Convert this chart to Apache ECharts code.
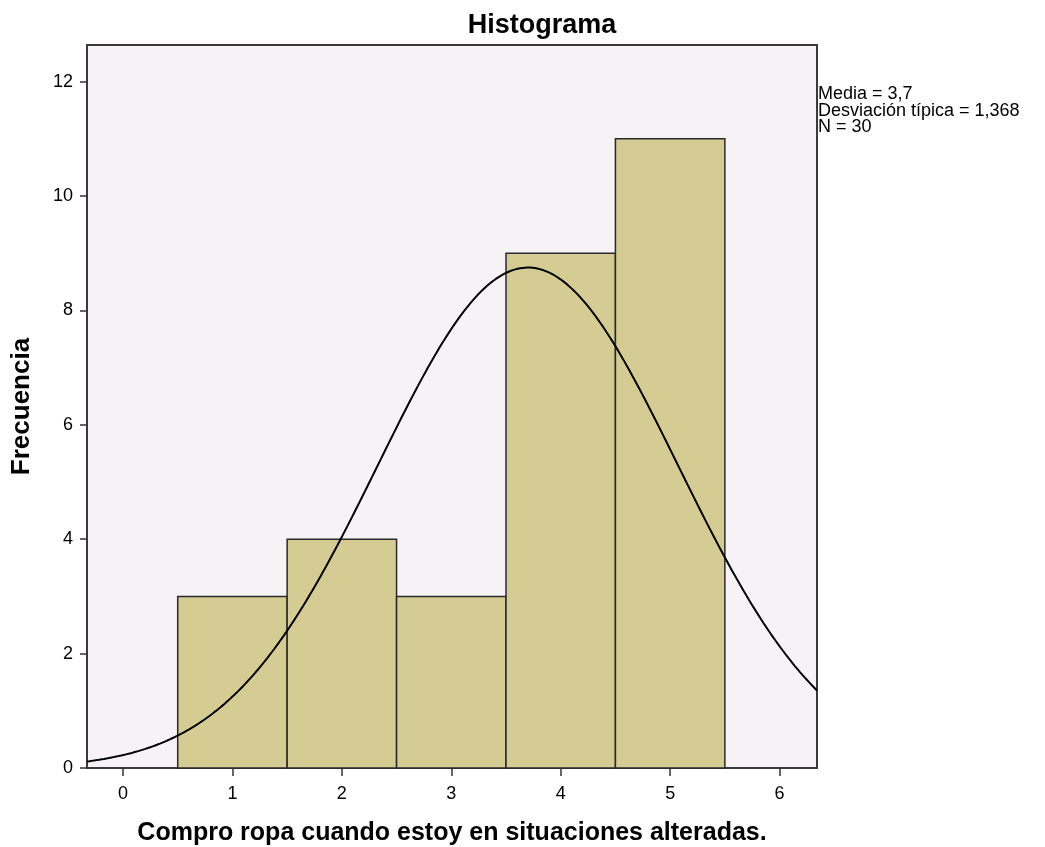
<!DOCTYPE html>
<html>
<head>
<meta charset="utf-8">
<script src="https://cdn.jsdelivr.net/npm/echarts@6/dist/echarts.min.js"></script>
<style>html,body{margin:0;padding:0;background:#fff}#c{width:1045px;height:847px}</style>
</head>
<body>
<div id="c"></div>
<script>
// Data
var binCenters = [1, 2, 3, 4, 5];
var frequencies = [3, 4, 3, 9, 11];
var meanValue = 3.7;
var sdValue = 1.368;
var nValue = 30;
var binWidth = 1;
var xTicks = [0, 1, 2, 3, 4, 5, 6];
var yTicks = [0, 2, 4, 6, 8, 10, 12];
var statsLines = ['Media = 3,7', 'Desviación típica = 1,368', 'N = 30'];

var xMin = -0.329, xMax = 6.342, yMax = 12.64;

// normal curve scaled to counts (SPSS overlay from mean/sd/N)
var curve = [];
for (var i = 0; i <= 300; i++) {
  var x = xMin + (xMax - xMin) * i / 300;
  var z = (x - meanValue) / sdValue;
  curve.push([x, nValue * binWidth / (sdValue * Math.sqrt(2 * Math.PI)) * Math.exp(-0.5 * z * z)]);
}
var barData = binCenters.map(function (c, i) { return [c, frequencies[i]]; });

var font = 'Liberation Sans, Arial, sans-serif';
var chart = echarts.init(document.getElementById('c'), null, {renderer: 'canvas'});
chart.setOption({
  animation: false,
  backgroundColor: '#ffffff',
  title: {
    text: 'Histograma', left: 537, top: 7, textAlign: 'center',
    textStyle: {fontFamily: font, fontSize: 27, fontWeight: 'bold', color: '#000'}
  },
  graphic: [{
    type: 'text', left: 818, top: 85,
    style: {text: statsLines.join('\n'), font: '18px ' + font, fill: '#000', lineHeight: 16.7}
  }],
  grid: {left: 87, right: 228, top: 45, bottom: 79, outerBoundsMode: 'none', containLabel: false, show: true, backgroundColor: '#f6f2f6', borderColor: '#3a3a3a', borderWidth: 2},
  xAxis: {
    type: 'value', min: xMin, max: xMax,
    name: 'Compro ropa cuando estoy en situaciones alteradas.', nameLocation: 'middle', nameGap: 53,
    nameTextStyle: {fontFamily: font, fontSize: 25, fontWeight: 'bold', color: '#000'},
    axisLine: {show: true, onZero: false, lineStyle: {color: '#3a3a3a', width: 2}},
    axisTick: {show: true, length: 8, customValues: xTicks, lineStyle: {color: '#333', width: 1.5}},
    axisLabel: {customValues: xTicks, fontFamily: font, fontSize: 18, color: '#000', margin: 17},
    splitLine: {show: false}
  },
  yAxis: {
    type: 'value', min: 0, max: yMax,
    name: 'Frecuencia', nameLocation: 'middle', nameGap: 52,
    nameTextStyle: {fontFamily: font, fontSize: 26, fontWeight: 'bold', color: '#000'},
    axisLine: {show: true, onZero: false, lineStyle: {color: '#3a3a3a', width: 2}},
    axisTick: {show: true, length: 7, customValues: yTicks, lineStyle: {color: '#333', width: 1.5}},
    axisLabel: {customValues: yTicks, fontFamily: font, fontSize: 18, color: '#000', margin: 14},
    splitLine: {show: false}
  },
  series: [{
    type: 'custom',
    data: barData,
    renderItem: function (params, api) {
      var c = api.value(0), v = api.value(1);
      var p0 = api.coord([c - binWidth / 2, v]);
      var p1 = api.coord([c + binWidth / 2, 0]);
      return {
        type: 'rect',
        shape: {x: p0[0], y: p0[1], width: p1[0] - p0[0], height: p1[1] - p0[1]},
        style: {fill: '#d5cc94', stroke: '#2a2a2a', lineWidth: 1.5}
      };
    },
    z: 2
  }, {
    type: 'line', data: curve, showSymbol: false, symbol: 'none', smooth: false,
    lineStyle: {color: '#000', width: 2}, z: 3, clip: true
  }]
});
</script>
</body>
</html>
